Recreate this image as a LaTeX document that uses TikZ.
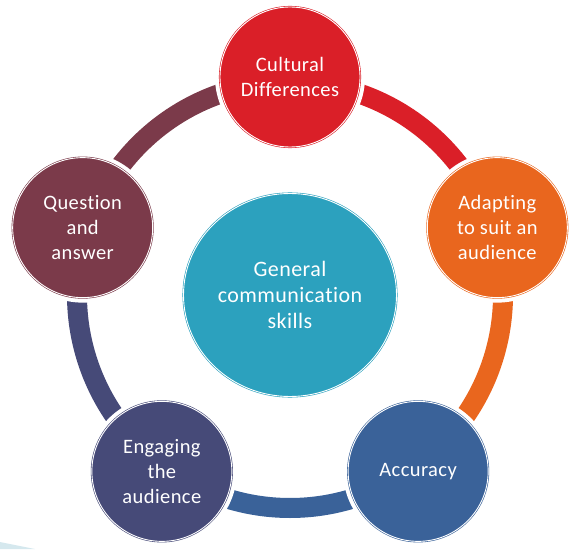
\documentclass[tikz,border=0pt]{standalone}
\usepackage{fontspec}
\setmainfont{Carlito}[Ligatures=NoCommon, LetterSpace=2]
\usetikzlibrary{calc, backgrounds, shapes.geometric}

\definecolor{culred}{HTML}{DA1F28}
\definecolor{adaptorange}{HTML}{E9661E}
\definecolor{accblue}{HTML}{3A6299}
\definecolor{engslate}{HTML}{464A78}
\definecolor{quesmaroon}{HTML}{7B3A4A}
\definecolor{genteal}{HTML}{2CA1BE}
\definecolor{swoosh}{HTML}{D5E8EE}

\begin{document}
\begin{tikzpicture}[x=1pt, y=1pt,
    bubble/.style={circle, minimum size=140pt, inner sep=0pt, fill=#1, draw=#1,
        double=white, double distance=0.9pt, line width=0.6pt,
        preaction={draw=white, line width=10pt},
        text=white, align=center, font=\fontsize{20.5}{25}\selectfont},
    ringseg/.style={line width=20pt, draw=#1}]
    \useasboundingbox (0,0) rectangle (569,549);
    % faint swoosh in the corner
    \fill[swoosh] (0,7) .. controls (15,4) .. (35,0) -- (0,0) -- cycle;

    % hub and centre circle
    \coordinate (hub) at (290,254);
    \node[ellipse, fill=genteal, draw=genteal, double=white, double distance=0.9pt, line width=0.6pt,
        inner sep=0pt, minimum width=213pt, minimum height=203pt,
        text=white, align=center, font=\fontsize{22}{26}\selectfont]
        (general) at (hub) {General\\communication\\skills};

    % outer circles
    \node[bubble=culred] (cultural) at ($(hub)+(90:218)$) {Cultural\\Differences};
    \node[bubble=adaptorange] (adapting) at ($(hub)+(18:218)$) {Adapting\\to suit an\\audience};
    \node[bubble=accblue] (accuracy) at ($(hub)+(-54:218)$) {Accuracy};
    \node[bubble=engslate] (engaging) at ($(hub)+(-126:218)$) {Engaging\\the\\audience};
    \node[bubble=quesmaroon] (question) at ($(hub)+(162:218)$) {Question\\and\\answer};

    % ring between the circles
    \begin{scope}[on background layer]
        \draw[ringseg=culred] (hub) ++(90:213) arc[start angle=90, end angle=18, radius=213];
        \draw[ringseg=adaptorange] (hub) ++(18:213) arc[start angle=18, end angle=-54, radius=213];
        \draw[ringseg=accblue] (hub) ++(-54:213) arc[start angle=-54, end angle=-126, radius=213];
        \draw[ringseg=engslate] (hub) ++(-126:213) arc[start angle=-126, end angle=-198, radius=213];
        \draw[ringseg=quesmaroon] (hub) ++(162:213) arc[start angle=162, end angle=90, radius=213];
    \end{scope}
\end{tikzpicture}
\end{document}
